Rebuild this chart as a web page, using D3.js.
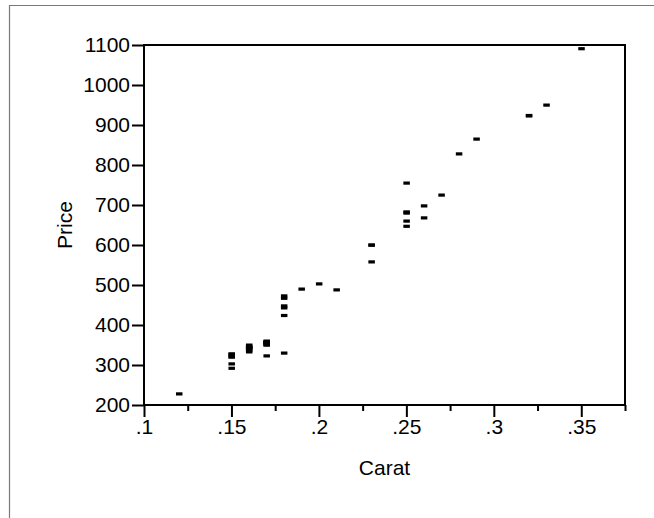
<!DOCTYPE html>
<html>
<head>
<meta charset="utf-8">
<script src="https://cdn.jsdelivr.net/npm/d3@7"></script>
<style>
  body { margin: 0; background: #fff; }
  svg text { font-family: "Liberation Sans", Arial, sans-serif; fill: #000; }
</style>
</head>
<body>
<div id="chart"></div>
<script>
// carat weight and price of each ring
const carat = [0.17, 0.16, 0.17, 0.18, 0.25, 0.16, 0.15, 0.19, 0.21, 0.15, 0.18, 0.28,
    0.16, 0.20, 0.23, 0.29, 0.12, 0.26, 0.25, 0.27, 0.18, 0.16, 0.17, 0.16,
    0.17, 0.18, 0.17, 0.18, 0.17, 0.15, 0.17, 0.32, 0.32, 0.15, 0.16, 0.16,
    0.23, 0.23, 0.17, 0.33, 0.25, 0.35, 0.18, 0.25, 0.25, 0.15, 0.26, 0.15];
const price = [355, 328, 350, 325, 642, 342, 322, 485, 483, 323, 462, 823,
    336, 498, 595, 860, 223, 663, 750, 720, 468, 345, 352, 332,
    353, 438, 318, 419, 346, 315, 350, 918, 919, 298, 339, 338,
    595, 553, 345, 945, 655, 1086, 443, 678, 675, 287, 693, 316];

const xMajor = [0.1, 0.15, 0.2, 0.25, 0.3, 0.35];
const xMajorLabels = [".1", ".15", ".2", ".25", ".3", ".35"];
const xMinor = [0.125, 0.175, 0.225, 0.275, 0.325, 0.375];
const yTicks = [200, 300, 400, 500, 600, 700, 800, 900, 1000, 1100];

const W = 654, H = 518;
const margin = { top: 45, right: 29, bottom: 113, left: 144 },
    width = W - margin.left - margin.right,
    height = H - margin.top - margin.bottom;

const svgRoot = d3.select("#chart")
    .append("svg")
    .attr("width", W)
    .attr("height", H);

// grey outer frame (runs off the right and bottom edges)
svgRoot.append("path")
    .attr("d", `M9.5,${H + 5}V5.5H${W + 5}`)
    .attr("fill", "none")
    .attr("stroke", "#7a7a7a")
    .attr("stroke-width", 1.2);

const svg = svgRoot.append("g")
    .attr("transform", `translate(${margin.left},${margin.top})`);

const x = d3.scaleLinear().domain([0.1, 0.375]).range([0, width]);
const y = d3.scaleLinear().domain([200, 1100]).range([height, 0]);

// plot box
svg.append("rect")
    .attr("width", width)
    .attr("height", height)
    .attr("fill", "none")
    .attr("stroke", "#000")
    .attr("stroke-width", 2);

// Y axis
const yAxis = svg.append("g")
    .call(d3.axisLeft(y).tickValues(yTicks).tickSize(12).tickPadding(2).tickFormat(d3.format("d")));

// X axis major ticks with labels
const xAxis = svg.append("g")
    .attr("transform", `translate(0,${height})`)
    .call(d3.axisBottom(x).tickValues(xMajor).tickSize(12).tickPadding(2)
        .tickFormat((d, i) => xMajorLabels[i]));

// X axis minor ticks
const xMinorAxis = svg.append("g")
    .attr("transform", `translate(0,${height})`)
    .call(d3.axisBottom(x).tickValues(xMinor).tickSize(6).tickFormat(""));

[yAxis, xAxis, xMinorAxis].forEach(g => {
    g.select(".domain").remove();
    g.selectAll(".tick line").attr("stroke", "#000").attr("stroke-width", 2);
    g.selectAll(".tick text")
        .style("font-size", "21px")
        .style("font-family", "'Liberation Sans', Arial, sans-serif");
});

// points: small horizontal dash markers
svg.selectAll("rect.pt")
    .data(carat.map((c, i) => [c, price[i]]))
    .enter()
    .append("rect")
    .attr("class", "pt")
    .attr("x", d => x(d[0]) - 3)
    .attr("y", d => y(d[1]) - 3.5)
    .attr("width", 6.5)
    .attr("height", 3.2)
    .attr("fill", "#000");

// axis titles
svg.append("text")
    .attr("x", width / 2)
    .attr("y", height + 70)
    .style("text-anchor", "middle")
    .style("font-size", "21px")
    .text("Carat");

svg.append("text")
    .attr("transform", "rotate(-90)")
    .attr("x", -height / 2)
    .attr("y", -72)
    .style("text-anchor", "middle")
    .style("font-size", "21px")
    .text("Price");
</script>
</body>
</html>
